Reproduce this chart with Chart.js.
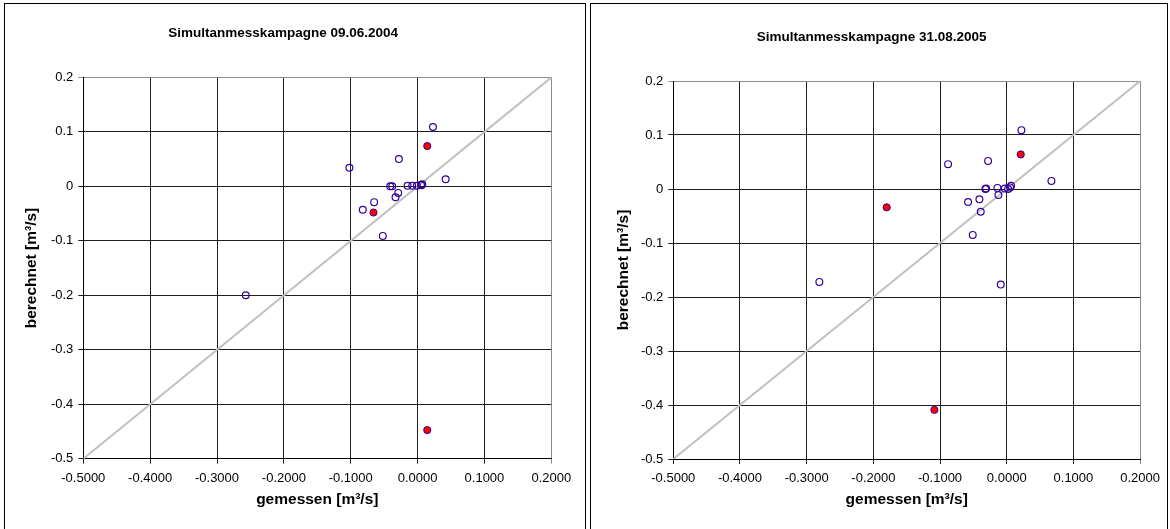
<!DOCTYPE html>
<html>
<head>
<meta charset="utf-8">
<script src="https://cdn.jsdelivr.net/npm/chart.js@4"></script>
<style>
  body { margin: 0; background: #fff; width: 1170px; height: 529px; overflow: hidden; position: relative; }
  .box { position: absolute; top: 3px; border: 1px solid #000; background: #fff; }
  #box1 { left: 4px; width: 580px; height: 528px; }
  #box2 { left: 590px; width: 576px; height: 528px; }
  canvas { display: block; }
</style>
</head>
<body>
<div class="box" id="box1"><canvas id="chart2004" width="580" height="528"></canvas></div>
<div class="box" id="box2"><canvas id="chart2005" width="576" height="528"></canvas></div>
<script>
// Campaign 09.06.2004: measured (x) vs computed (y) discharge in m³/s
const measured2004 = [0.023, -0.028, -0.102, 0.042, -0.041, -0.038, -0.029, -0.033, -0.015, -0.008, -0.001, 0.005, 0.007, 0.006, -0.065, -0.082, -0.052, -0.257];
const computed2004 = [0.109, 0.050, 0.034, 0.013, 0.000, 0.000, -0.012, -0.020, 0.001, 0.001, 0.001, 0.003, 0.004, 0.002, -0.029, -0.043, -0.091, -0.200];
const measured2004Marked = [0.0145, -0.066, 0.0145];
const computed2004Marked = [0.074, -0.048, -0.4475];

// Campaign 31.08.2005
const measured2005 = [0.022, -0.088, -0.028, 0.067, -0.032, -0.031, -0.014, -0.0125, -0.003, 0.002, 0.005, 0.0065, -0.041, -0.058, -0.039, -0.051, -0.281, -0.009];
const computed2005 = [0.109, 0.046, 0.052, 0.015, 0.000, 0.001, 0.002, -0.011, 0.001, 0.000, 0.003, 0.006, -0.019, -0.024, -0.042, -0.085, -0.172, -0.177];
const measured2005Marked = [0.021, -0.180, -0.1085];
const computed2005Marked = [0.064, -0.034, -0.409];

// 1:1 reference line and axis range
const diagonal = [-0.5, 0.2];
const axisMin = -0.5;
const axisMax = 0.2;
const axisStep = 0.1;

const FONT = "'Liberation Sans', Arial, sans-serif";
const MARKER = "#330099";

function toPoints(xs, ys) {
  return xs.map((x, i) => ({ x: x, y: ys[i] }));
}

// avoid "-0.0000" from floating point noise around zero
function clean(v) {
  return Math.abs(v) < 1e-9 ? 0 : v;
}

function gridColor(ctx) {
  if (ctx.tick && Math.abs(ctx.tick.value - axisMax) < 1e-9) return "#8c8c8c";
  return "#1e1e1e";
}

function makeChart(id, title, xs, ys, xsMarked, ysMarked, lay) {
  new Chart(document.getElementById(id), {
    type: "scatter",
    data: {
      datasets: [
        {
          type: "line",
          data: toPoints(diagonal, diagonal),
          borderColor: "#c0c0c0",
          borderWidth: 2,
          pointRadius: 0,
          order: 3,
        },
        {
          data: toPoints(xs, ys),
          pointRadius: 3.4,
          pointBorderWidth: 1.2,
          pointBorderColor: MARKER,
          pointBackgroundColor: "rgba(0,0,0,0)",
          order: 2,
        },
        {
          data: toPoints(xsMarked, ysMarked),
          pointRadius: 3.6,
          pointBorderWidth: 1,
          pointBorderColor: MARKER,
          pointBackgroundColor: "#ff0000",
          order: 1,
        },
      ],
    },
    options: {
      responsive: false,
      animation: false,
      events: [],
      layout: { padding: { left: lay.padLeft, right: lay.padRight, top: 0, bottom: 0 } },
      plugins: {
        legend: { display: false },
        tooltip: { enabled: false },
        title: {
          display: true,
          text: title,
          color: "#000",
          font: { family: FONT, size: 13.5, weight: "bold" },
          padding: { top: lay.titleTop, bottom: lay.titleBottom },
        },
      },
      scales: {
        x: {
          type: "linear",
          min: axisMin,
          max: axisMax,
          afterFit: (s) => { s.height = lay.xHeight; },
          ticks: {
            stepSize: axisStep,
            color: "#000",
            padding: 7,
            font: { family: FONT, size: 13 },
            callback: (v) => clean(v).toFixed(4),
          },
          grid: { color: gridColor, tickLength: 5, lineWidth: 1 },
          border: { color: "#000", width: 1 },
          title: {
            display: true,
            text: "gemessen [m³/s]",
            color: "#000",
            font: { family: FONT, size: 15.5, weight: "bold" },
            padding: { top: 0, bottom: lay.xTitlePad },
          },
        },
        y: {
          type: "linear",
          min: axisMin,
          max: axisMax,
          afterFit: (s) => { s.width = lay.yWidth; },
          ticks: {
            stepSize: axisStep,
            color: "#000",
            padding: 5,
            font: { family: FONT, size: 13 },
            callback: (v) => String(Number(clean(v).toFixed(1))),
          },
          grid: { color: gridColor, tickLength: 5, lineWidth: 1 },
          border: { color: "#000", width: 1 },
          title: {
            display: true,
            text: "berechnet [m³/s]",
            color: "#000",
            font: { family: FONT, size: 15.5, weight: "bold" },
            padding: { top: lay.yTitlePad, bottom: 0 },
          },
        },
      },
    },
  });
}

makeChart("chart2004", "Simultanmesskampagne 09.06.2004",
  measured2004, computed2004, measured2004Marked, computed2004Marked,
  { padLeft: 10, yWidth: 68.3, padRight: 33.7, titleTop: 20.9, titleBottom: 36.3, xHeight: 73.3, xTitlePad: 22.7, yTitlePad: 7.7 });

makeChart("chart2005", "Simultanmesskampagne 31.08.2005",
  measured2005, computed2005, measured2005Marked, computed2005Marked,
  { padLeft: 10, yWidth: 72.3, padRight: 24.7, titleTop: 24.9, titleBottom: 35.9, xHeight: 73, xTitlePad: 22.7, yTitlePad: 13.7 });
</script>
</body>
</html>
